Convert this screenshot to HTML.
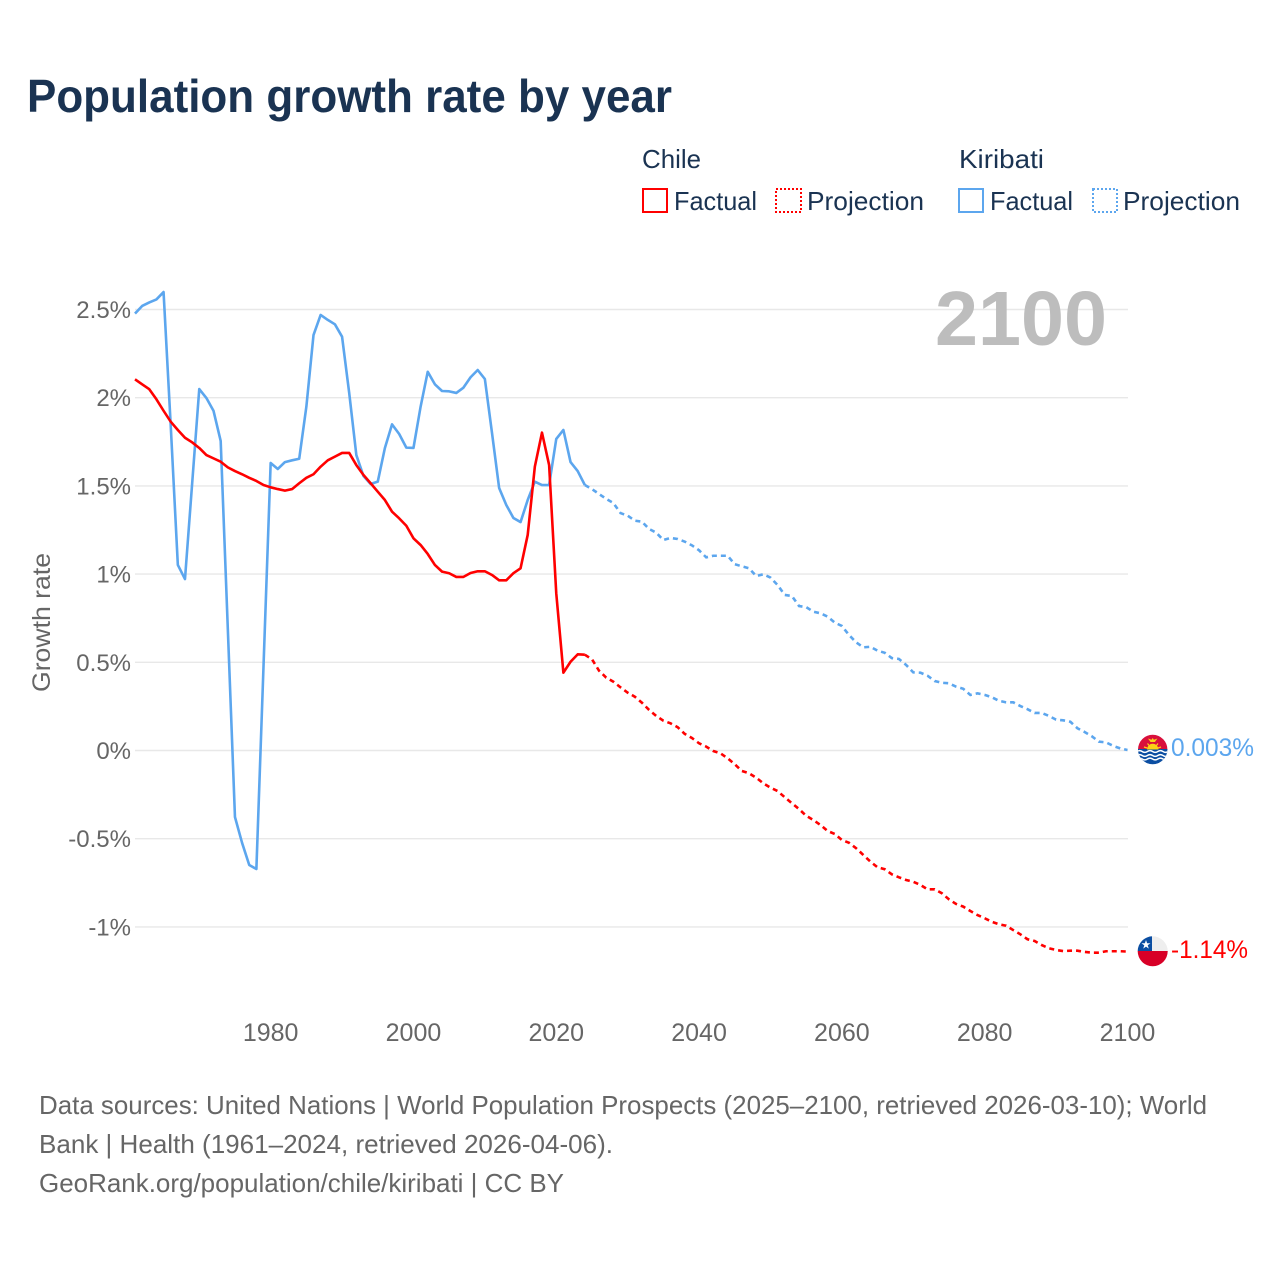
<!DOCTYPE html>
<html lang="en">
<head>
<meta charset="utf-8">
<title>Population growth rate by year</title>
<style>
html,body{margin:0;padding:0;background:#fff;}
svg{display:block;}
text{font-family:"Liberation Sans",sans-serif;}
</style>
</head>
<body>
<svg id="chart" xmlns="http://www.w3.org/2000/svg" width="1280" height="1280" viewBox="0 0 1280 1280">
  <defs>
    <clipPath id="flag-clip-k"><circle cx="1152.7" cy="749.5" r="14.7"/></clipPath>
    <clipPath id="flag-clip-c"><circle cx="1152.7" cy="951.3" r="15"/></clipPath>
  </defs>
  <rect width="1280" height="1280" fill="#fff"/>
  <text x="27" y="112" font-size="46" font-weight="700" fill="#1a3352" textLength="645" lengthAdjust="spacingAndGlyphs">Population growth rate by year</text>

  <g font-size="26" fill="#1a3352">
    <text x="642" y="168" textLength="59" lengthAdjust="spacingAndGlyphs">Chile</text>
    <text x="959" y="168" textLength="85" lengthAdjust="spacingAndGlyphs">Kiribati</text>
    <g>
      <rect x="643" y="189" width="24" height="23" fill="none" stroke="#ff0000" stroke-width="2"/>
      <text x="674" y="210" textLength="83" lengthAdjust="spacingAndGlyphs">Factual</text>
    </g>
    <g>
      <rect x="776" y="189" width="25" height="23" fill="none" stroke="#ff0000" stroke-width="2" stroke-dasharray="2 2"/>
      <text x="807" y="210" textLength="117" lengthAdjust="spacingAndGlyphs">Projection</text>
    </g>
    <g>
      <rect x="959" y="189" width="24" height="23" fill="none" stroke="#5ca6ee" stroke-width="2"/>
      <text x="990" y="210" textLength="83" lengthAdjust="spacingAndGlyphs">Factual</text>
    </g>
    <g>
      <rect x="1093" y="189" width="24" height="23" fill="none" stroke="#5ca6ee" stroke-width="2" stroke-dasharray="2 2"/>
      <text x="1123" y="210" textLength="117" lengthAdjust="spacingAndGlyphs">Projection</text>
    </g>
  </g>

  <g id="grid"></g>
  <g id="yticks"></g>
  <g id="xticks"></g>
  <text transform="translate(50,692) rotate(-90)" x="0" y="0" font-size="25" fill="#666666" textLength="139" lengthAdjust="spacingAndGlyphs">Growth rate</text>
  <text x="935" y="345" font-size="77" font-weight="700" fill="#bdbdbd" textLength="172" lengthAdjust="spacingAndGlyphs">2100</text>
  <g id="series"></g>

  <g clip-path="url(#flag-clip-k)">
    <rect x="1137" y="734" width="32" height="16" fill="#d9103c"/>
    <rect x="1137" y="749" width="32" height="17" fill="#0b4ea2"/>
    <path d="M1147 749.5a5.7 5.7 0 0 1 11.4 0z" fill="#fcd116"/>
    <path d="M1144 747l3 1M1161 747l-3 1M1147.500 743.500l2 2.500M1158 743.500l-2 2.500" stroke="#fcd116" stroke-width="1.200"/>
    <path d="M1148 738.500l3.500 1.200 1.200-1.700 1.200 1.700 3.500-1.200-2.500 3.500h-4.400z" fill="#fcd116"/>
    <path d="M1137 751.500q2.600-1.800 5.200 0t5.200 0 5.200 0 5.200 0 5.200 0 5.200 0M1137 755.500q2.600-1.800 5.200 0t5.200 0 5.200 0 5.200 0 5.200 0 5.200 0M1137 759q2.600-1.800 5.200 0t5.200 0 5.200 0 5.200 0 5.200 0 5.200 0" fill="none" stroke="#ffffff" stroke-width="1.500"/>
  </g>
  <g clip-path="url(#flag-clip-c)">
    <rect x="1137" y="935" width="32" height="16" fill="#eeeeee"/>
    <rect x="1137" y="935" width="15" height="16" fill="#0b4ea2"/>
    <rect x="1137" y="951" width="32" height="17" fill="#d80027"/>
    <path d="M1146 940l1.100 3.300h3.400l-2.800 2 1.100 3.300-2.800-2-2.800 2 1.100-3.300-2.800-2h3.400z" fill="#ffffff"/>
  </g>
  <text x="1171" y="756" font-size="25" fill="#5ca6ee" textLength="83" lengthAdjust="spacingAndGlyphs">0.003%</text>
  <text x="1171" y="958" font-size="25" fill="#ff0000" textLength="77" lengthAdjust="spacingAndGlyphs">-1.14%</text>

  <g font-size="26" fill="#666666">
    <text x="39" y="1114" textLength="1168" lengthAdjust="spacingAndGlyphs">Data sources: United Nations | World Population Prospects (2025–2100, retrieved 2026-03-10); World</text>
    <text x="39" y="1153" textLength="574" lengthAdjust="spacingAndGlyphs">Bank | Health (1961–2024, retrieved 2026-04-06).</text>
    <text x="39" y="1192" textLength="525" lengthAdjust="spacingAndGlyphs">GeoRank.org/population/chile/kiribati | CC BY</text>
  </g>
</svg>
<script>
const firstYear = 1961;
const projectionStartYear = 2024;
const xTickYears = [1980, 2000, 2020, 2040, 2060, 2080, 2100];
const yTickValues = [-1, -0.5, 0, 0.5, 1, 1.5, 2, 2.5];
const yTickLabels = ["-1%", "-0.5%", "0%", "0.5%", "1%", "1.5%", "2%", "2.5%"];

const chileFactual = [
  2.104,2.076,2.048,1.991,1.926,1.864,1.817,1.773,1.747,1.715,
  1.675,1.656,1.637,1.605,1.584,1.566,1.546,1.528,1.505,1.492,
  1.482,1.473,1.482,1.515,1.546,1.566,1.609,1.645,1.666,1.687,
  1.687,1.618,1.562,1.515,1.467,1.420,1.354,1.316,1.274,1.203,
  1.165,1.114,1.052,1.014,1.005,0.984,0.984,1.006,1.016,1.016,
  0.995,0.965,0.965,1.005,1.033,1.222,1.609,1.802,1.618,0.891,
  0.441,0.503,0.545,0.543
];
const chileProjection = [
  0.543,
  0.517,0.452,0.413,0.390,0.358,0.328,0.305,0.271,0.230,0.196,
  0.169,0.154,0.132,0.094,0.071,0.041,0.022,-0.003,-0.016,-0.044,
  -0.078,-0.116,-0.129,-0.154,-0.186,-0.211,-0.230,-0.265,-0.299,-0.332,
  -0.370,-0.394,-0.422,-0.456,-0.473,-0.507,-0.523,-0.554,-0.592,-0.630,
  -0.662,-0.673,-0.702,-0.719,-0.734,-0.744,-0.762,-0.787,-0.787,-0.809,
  -0.844,-0.870,-0.885,-0.910,-0.933,-0.951,-0.971,-0.985,-0.993,-1.018,
  -1.042,-1.070,-1.080,-1.103,-1.121,-1.131,-1.137,-1.135,-1.135,-1.142,
  -1.146,-1.146,-1.138,-1.138,-1.138,-1.140
];
const kiribatiFactual = [
  2.477,2.520,2.540,2.557,2.599,1.845,1.052,0.972,1.511,2.049,
  1.998,1.925,1.755,0.689,-0.377,-0.524,-0.649,-0.672,0.479,1.630,
  1.596,1.635,1.645,1.654,1.949,2.355,2.469,2.441,2.416,2.346,
  2.027,1.675,1.556,1.511,1.524,1.715,1.849,1.794,1.717,1.715,
  1.949,2.147,2.076,2.038,2.036,2.027,2.057,2.116,2.157,2.106,
  1.800,1.488,1.392,1.318,1.295,1.420,1.524,1.505,1.505,1.766,
  1.817,1.635,1.584,1.505
];
const kiribatiProjection = [
  1.505,
  1.482,1.454,1.426,1.403,1.346,1.331,1.303,1.297,1.256,1.235,
  1.193,1.205,1.199,1.184,1.163,1.135,1.095,1.104,1.104,1.104,
  1.056,1.044,1.033,0.989,0.999,0.980,0.938,0.882,0.876,0.819,
  0.813,0.787,0.778,0.759,0.725,0.706,0.655,0.613,0.585,0.588,
  0.566,0.554,0.524,0.519,0.485,0.443,0.441,0.424,0.394,0.384,
  0.381,0.362,0.350,0.315,0.324,0.315,0.302,0.282,0.273,0.273,
  0.252,0.234,0.213,0.213,0.196,0.175,0.171,0.163,0.126,0.105,
  0.081,0.050,0.046,0.026,0.012,0.003
];

const SVG_NS = "http://www.w3.org/2000/svg";
const xScale = function (year) { return 135 + 7.14 * (year - firstYear); };
const yScale = function (value) { return 750.5 - 176.4 * value; };

const grid = document.getElementById("grid");
const yticks = document.getElementById("yticks");
yTickValues.forEach(function (v, i) {
  const line = document.createElementNS(SVG_NS, "line");
  
  
  line.setAttribute("x1", xScale(firstYear));
  line.setAttribute("x2", 1128);
  line.setAttribute("y1", yScale(v));
  line.setAttribute("y2", yScale(v));
  line.setAttribute("stroke", "#e8e8e8");
  line.setAttribute("stroke-width", "1.4");
  grid.appendChild(line);

  const label = document.createElementNS(SVG_NS, "text");
  
  
  label.setAttribute("x", 131);
  label.setAttribute("y", yScale(v) + 8.5);
  label.setAttribute("text-anchor", "end");
  label.setAttribute("font-size", "24");
  label.setAttribute("fill", "#666666");
  label.textContent = yTickLabels[i];
  yticks.appendChild(label);
});

const xticks = document.getElementById("xticks");
xTickYears.forEach(function (year) {
  const label = document.createElementNS(SVG_NS, "text");
  
  
  label.setAttribute("x", xScale(year));
  label.setAttribute("y", 1041);
  label.setAttribute("text-anchor", "middle");
  label.setAttribute("font-size", "25");
  label.setAttribute("fill", "#666666");
  label.textContent = String(year);
  xticks.appendChild(label);
});

function toPoints(values, startYear) {
  return values.map(function (v, i) {
    return xScale(startYear + i).toFixed(2) + "," + yScale(v).toFixed(2);
  }).join(" ");
}

const seriesGroup = document.getElementById("series");

const lineKiribatiFactual = document.createElementNS(SVG_NS, "polyline");


lineKiribatiFactual.setAttribute("points", toPoints(kiribatiFactual, firstYear));
lineKiribatiFactual.setAttribute("fill", "none");
lineKiribatiFactual.setAttribute("stroke", "#5ca6ee");
lineKiribatiFactual.setAttribute("stroke-width", "2.6");
lineKiribatiFactual.setAttribute("stroke-linejoin", "round");
seriesGroup.appendChild(lineKiribatiFactual);

const lineKiribatiProjection = document.createElementNS(SVG_NS, "polyline");


lineKiribatiProjection.setAttribute("points", toPoints(kiribatiProjection, projectionStartYear));
lineKiribatiProjection.setAttribute("fill", "none");
lineKiribatiProjection.setAttribute("stroke", "#5ca6ee");
lineKiribatiProjection.setAttribute("stroke-width", "2.6");
lineKiribatiProjection.setAttribute("stroke-dasharray", "5 4");
seriesGroup.appendChild(lineKiribatiProjection);

const lineChileFactual = document.createElementNS(SVG_NS, "polyline");


lineChileFactual.setAttribute("points", toPoints(chileFactual, firstYear));
lineChileFactual.setAttribute("fill", "none");
lineChileFactual.setAttribute("stroke", "#ff0000");
lineChileFactual.setAttribute("stroke-width", "2.6");
lineChileFactual.setAttribute("stroke-linejoin", "round");
seriesGroup.appendChild(lineChileFactual);

const lineChileProjection = document.createElementNS(SVG_NS, "polyline");


lineChileProjection.setAttribute("points", toPoints(chileProjection, projectionStartYear));
lineChileProjection.setAttribute("fill", "none");
lineChileProjection.setAttribute("stroke", "#ff0000");
lineChileProjection.setAttribute("stroke-width", "2.6");
lineChileProjection.setAttribute("stroke-dasharray", "5 4");
seriesGroup.appendChild(lineChileProjection);
</script>
</body>
</html>
